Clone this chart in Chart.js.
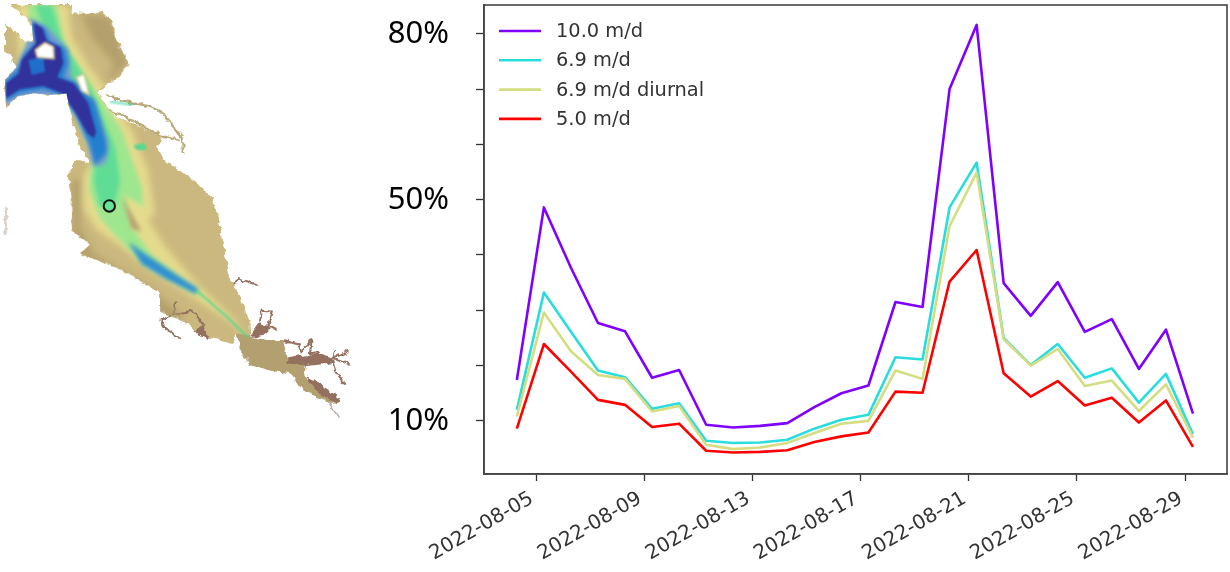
<!DOCTYPE html>
<html>
<head>
<meta charset="utf-8">
<title>Concentration at the marked station</title>
<style>
  html, body { margin: 0; padding: 0; background: #fff; }
  #wrap { position: relative; width: 1230px; height: 572px; overflow: hidden; }
  #map { position: absolute; left: 0; top: 0; }
  #chart { position: absolute; left: 0; top: 0; }
</style>
<script src="https://cdn.jsdelivr.net/npm/chart.js@4"></script>
</head>
<body>
<div id="wrap">
  <!-- site map next to the chart, hand traced illustration (3x units) -->
  <svg id="map" width="360" height="430" viewBox="0 0 1080 1290">
    <defs>
      <filter id="soft" x="-20%" y="-20%" width="140%" height="140%"><feGaussianBlur stdDeviation="11"/></filter>
      <filter id="soft2" x="-20%" y="-20%" width="140%" height="140%"><feGaussianBlur stdDeviation="7"/></filter>
      <filter id="edge"><feGaussianBlur stdDeviation="2.5"/></filter>
      <filter id="rough" x="-5%" y="-5%" width="110%" height="110%">
        <feTurbulence type="fractalNoise" baseFrequency="0.05" numOctaves="2" seed="4" result="n"/>
        <feDisplacementMap in="SourceGraphic" in2="n" scale="20" xChannelSelector="R" yChannelSelector="G"/>
        <feGaussianBlur stdDeviation="1.8"/>
      </filter>
      <path id="bayShape" d="M30,15 L215,15 L215,40 L260,42 L300,35 L335,60 L345,110 L365,150 L385,190 L365,225 L325,250 L290,275 L320,320 L350,352 L400,370 L440,390 L490,412 L470,440 L500,490 L545,510 L590,550 L640,600 L655,650 L670,740 L690,830 L720,890 L745,960 L748,1010 L745,1015 L710,1000 L700,1030 L660,1020 L610,1010 L560,970 L480,935 L480,880 L400,830 L340,800 L240,760 L270,735 L215,690 L215,600 L205,510 L235,480 L270,490 L240,440 L215,360 L200,280 L150,285 L100,280 L50,290 L18,325 L15,240 L50,200 L15,150 L15,70 L45,90 L70,125 L100,125 L95,65 Z"/>
      <clipPath id="bay"><use href="#bayShape"/></clipPath>
    </defs>
    <g filter="url(#rough)">
      <use href="#bayShape" fill="#cbb87e"/>
      <path fill="#b3a06f" d="M710,1000 L750,1010 L800,1020 L850,1020 L860,1075 L915,1085 L910,1130 L960,1160 L1020,1200 L1005,1215 L950,1190 L900,1160 L870,1120 L800,1110 L750,1095 L720,1050 Z"/>
      <path fill="#94705e" d="M748,1008 L780,965 L815,985 L800,1000 L770,1012 Z M865,1075 L950,1060 L1000,1072 L1000,1090 L920,1098 L865,1090 Z M580,990 L610,975 L625,1020 L595,1005 Z M920,1130 L965,1155 L1020,1195 L1010,1212 L960,1185 Z"/>
      <g fill="none" stroke="#94705e" stroke-width="6">
        <path d="M702,855 L715,835 L775,855"/>
        <path d="M780,965 L785,932 L815,935 L805,975 L835,990"/>
        <path d="M850,1020 L895,1030 L905,1055 L935,1020 L930,1060 L960,1055"/>
        <path d="M1000,1075 L1005,1050 M1000,1075 L1048,1052 M1000,1075 L1050,1095 M1000,1085 L1015,1130 L1035,1150"/>
        <path d="M480,960 L520,945 L525,905 M480,960 L495,985 L540,1015 M520,945 L580,935 L610,975"/>
        <path d="M985,1205 L1015,1252" stroke="#b9a89c" stroke-width="4"/>
      </g>
      <g fill="none" stroke="#b9a878" stroke-width="7">
        <path d="M320,285 L360,300 L420,312 L475,330 L490,345"/>
        <path d="M490,345 L520,380 L548,415 L552,458"/>
        <path d="M320,330 L370,345 L420,375 L480,405 L540,420"/>
      </g>
      <path d="M18,625 L18,705" stroke="#cdbdb5" stroke-width="4"/>
    </g>
    <path d="M330,305 L400,315" stroke="#3cd6a8" stroke-width="5" fill="none" filter="url(#edge)"/>
    <g clip-path="url(#bay)">
      <path filter="url(#soft)" fill="#ae9a68" opacity="0.8" d="M240,40 L330,50 L385,190 L320,250 L340,190 L280,120 Z M215,540 L245,540 L240,680 L280,760 L380,820 L470,880 L560,960 L480,960 L340,810 L220,760 Z"/>
      <path filter="url(#soft)" fill="#e9e190" opacity="0.85" d="M50,15 L205,15 L215,110 L265,195 L335,290 L395,390 L445,510 L465,640 L445,660 L500,745 L600,860 L700,955 L745,1015 L690,965 L560,880 L440,805 L370,745 L290,690 L250,625 L250,530 L280,480 L225,340 L150,280 L60,220 Z"/>
      <path filter="url(#soft2)" fill="#9ee78f" d="M85,15 L170,15 L195,140 L285,270 L365,390 L425,560 L430,620 L375,585 L395,680 L455,765 L590,870 L610,895 L440,800 L350,710 L300,655 L268,570 L272,500 L290,465 L230,340 L170,270 L100,230 L60,200 L90,100 Z"/>
      <path filter="url(#soft2)" fill="#5fdd94" d="M105,15 L155,15 L185,120 L265,250 L345,440 L360,540 L345,610 L300,620 L280,540 L290,480 L210,290 Z"/>
      <path filter="url(#soft2)" fill="#7a9bd0" d="M90,55 L140,80 L205,150 L215,240 L280,300 L325,430 L318,490 L280,500 L262,430 L225,345 L180,290 L60,290 L15,315 L15,240 L55,190 L80,130 Z"/>
      <path filter="url(#soft2)" fill="#2280cf" d="M95,62 L135,85 L150,122 L195,145 L205,190 L190,232 L235,250 L285,305 L318,425 L320,460 L285,495 L268,430 L228,345 L190,286 L130,268 L60,280 L15,305 L15,245 L55,205 L70,165 L110,125 Z"/>
      <path filter="url(#edge)" fill="#33309c" d="M100,68 L128,85 L140,122 L182,142 L190,190 L172,232 L220,250 L265,310 L288,395 L282,415 L262,400 L225,335 L185,280 L130,258 L60,268 L18,295 L18,250 L55,222 L65,180 L108,130 Z"/>
      <path filter="url(#edge)" fill="#1f7fd6" opacity="0.8" d="M85,180 L130,170 L135,215 L95,225 Z"/>
      <path filter="url(#soft2)" fill="#2f8fd3" d="M385,725 L440,765 L530,825 L594,866 L588,882 L500,838 L425,792 Z"/>
      <path d="M590,872 L680,950 L745,1013" stroke="#45d98d" stroke-width="5" fill="none" filter="url(#edge)"/>
      <path filter="url(#soft2)" fill="#b39e6e" d="M365,590 L425,695 L395,685 Z"/>
    </g>
    <path filter="url(#edge)" fill="#fff" stroke="#d8c986" stroke-width="5" d="M106,150 L135,128 L160,140 L162,176 L112,172 Z M230,232 L252,222 L268,285 L245,272 Z"/>
    <path filter="url(#edge)" fill="#55d98c" d="M400,435 L435,430 L440,450 L410,450 Z"/>
    <circle cx="328" cy="618" r="17" fill="#62e596" stroke="#111" stroke-width="6"/>
  </svg>
  <canvas id="chart" width="1230" height="572"></canvas>
</div>
<script>
// daily values, %
const days = [
  '2022-08-04', '2022-08-05', '2022-08-06', '2022-08-07', '2022-08-08', '2022-08-09', '2022-08-10',
  '2022-08-11', '2022-08-12', '2022-08-13', '2022-08-14', '2022-08-15', '2022-08-16', '2022-08-17',
  '2022-08-18', '2022-08-19', '2022-08-20', '2022-08-21', '2022-08-22', '2022-08-23', '2022-08-24',
  '2022-08-25', '2022-08-26', '2022-08-27', '2022-08-28', '2022-08-29'
];
const speed100 = [17.4, 48.6, 37.7, 27.7, 26.2, 17.8, 19.2, 9.3, 8.8, 9.1, 9.6, 12.5, 15.0, 16.4, 31.5, 30.6, 70.0, 81.6, 34.9, 29.0, 35.1, 26.1, 28.4, 19.4, 26.5, 11.3];
const speed69 = [12.0, 33.2, 26.1, 19.1, 17.9, 12.2, 13.2, 6.4, 6.0, 6.1, 6.6, 8.6, 10.2, 11.1, 21.5, 21.1, 48.6, 56.7, 25.0, 20.1, 23.9, 17.8, 19.5, 13.3, 18.5, 7.6];
const speed69diurnal = [10.8, 29.6, 22.6, 18.3, 17.6, 11.7, 12.7, 5.7, 4.9, 5.2, 6.0, 7.8, 9.5, 10.0, 19.1, 17.6, 45.2, 54.9, 24.8, 20.0, 23.0, 16.3, 17.3, 11.8, 16.6, 7.0];
const speed50 = [8.6, 23.9, 18.9, 13.8, 12.9, 8.9, 9.5, 4.6, 4.3, 4.4, 4.7, 6.2, 7.2, 7.9, 15.3, 15.1, 35.2, 40.9, 18.6, 14.4, 17.2, 12.8, 14.2, 9.7, 13.7, 5.3];

const seriesNames = ['10.0 m/d', '6.9 m/d', '6.9 m/d diurnal', '5.0 m/d'];
const seriesColors = ['#8000ff', '#2adddd', '#d4dd80', '#ff0000'];
const xTickLabels = ['2022-08-05', '2022-08-09', '2022-08-13', '2022-08-17', '2022-08-21', '2022-08-25', '2022-08-29'];
const yTickLabels = [10, 50, 80];

const stamp = s => Date.parse(s + 'Z');
const xValues = days.map(d => stamp(d + 'T07:00:00'));

const datasets = [speed100, speed69, speed69diurnal, speed50].map((values, i) => ({
    label: seriesNames[i],
    data: values.map((v, j) => ({ x: xValues[j], y: v })),
    borderColor: seriesColors[i],
    borderWidth: 2.6,
    borderJoinStyle: 'round',
    pointRadius: 0,
    tension: 0,
    fill: false,
    order: 4 - i
}));

// box round the axes plus the legend inside it, matplotlib style
const boxAndLegend = {
    id: 'boxAndLegend',
    afterDraw(chart) {
        const { ctx, chartArea: a } = chart;
        ctx.save();
        ctx.strokeStyle = '#444';
        ctx.lineWidth = 1.6;
        ctx.strokeRect(a.left, a.top, a.right - a.left, a.bottom - a.top);
        ctx.font = '19.4px "DejaVu Sans"';
        ctx.textBaseline = 'middle';
        seriesNames.forEach((name, i) => {
            const y = a.top + 26 + i * 29.3;
            ctx.strokeStyle = seriesColors[i];
            ctx.lineWidth = 2.6;
            ctx.beginPath();
            ctx.moveTo(a.left + 15, y);
            ctx.lineTo(a.left + 57, y);
            ctx.stroke();
            ctx.fillStyle = '#333';
            ctx.fillText(name, a.left + 72, y + 1);
        });
        ctx.restore();
    }
};

new Chart(document.getElementById('chart'), {
    type: 'line',
    data: { datasets: datasets },
    plugins: [boxAndLegend],
    options: {
        responsive: false,
        animation: false,
        layout: { padding: { top: 5, right: 3, left: 0, bottom: 0 } },
        plugins: { legend: { display: false }, title: { display: false }, tooltip: { enabled: false } },
        scales: {
            x: {
                type: 'linear',
                min: stamp('2022-08-03T01:51:00'),
                max: stamp('2022-08-30T13:12:00'),
                afterBuildTicks: scale => { scale.ticks = xTickLabels.map(d => ({ value: stamp(d + 'T00:00:00') })); },
                afterFit: scale => { scale.height = 98; scale.paddingLeft = 0; scale.paddingRight = 0; },
                grid: { drawOnChartArea: false, drawTicks: true, tickLength: 7, tickColor: '#333', tickWidth: 1.3 },
                border: { color: '#444', width: 1.6 },
                ticks: {
                    autoSkip: false,
                    minRotation: 30,
                    maxRotation: 30,
                    padding: 6,
                    labelOffset: -4,
                    color: '#333',
                    font: { family: 'DejaVu Sans', size: 20 },
                    callback: value => new Date(value).toISOString().slice(0, 10)
                }
            },
            y: {
                min: 0.4,
                max: 85.2,
                afterFit: scale => { scale.width = 484; scale.paddingTop = 0; scale.paddingBottom = 0; },
                grid: { drawOnChartArea: false, drawTicks: true, tickLength: 8, tickColor: '#333', tickWidth: 1.3 },
                border: { color: '#444', width: 1.6 },
                ticks: {
                    stepSize: 10,
                    includeBounds: false,
                    autoSkip: false,
                    padding: 27,
                    color: '#000',
                    font: { family: 'Noto Sans', size: 31 },
                    callback: value => yTickLabels.includes(value) ? value + '%' : ''
                }
            }
        }
    }
});
</script>
</body>
</html>
